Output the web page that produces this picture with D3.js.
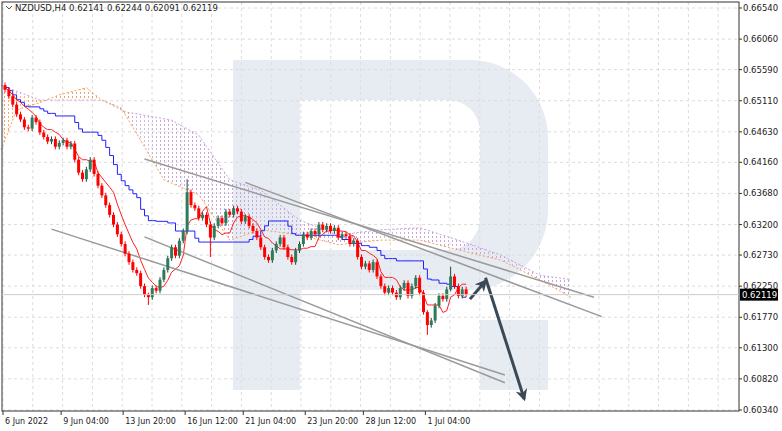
<!DOCTYPE html>
<html><head><meta charset="utf-8">
<script src="https://cdn.jsdelivr.net/npm/d3@7"></script>
<style>body{margin:0;background:#fff}text{font-family:"DejaVu Sans",sans-serif}</style>
</head><body><svg id="c" width="782" height="431"></svg>
<script>
// closes per H4 bar, opens are previous close
var closes = [0.6528,0.6518,0.6505,0.6490,0.6482,0.6470,0.6468,0.6485,0.6478,0.6462,
  0.6455,0.6448,0.6452,0.6440,0.6446,0.6450,0.6440,0.6445,0.6420,0.6400,
  0.6390,0.6405,0.6420,0.6398,0.6380,0.6365,0.6350,0.6335,0.6320,0.6305,
  0.6290,0.6275,0.6262,0.6250,0.6245,0.6225,0.6212,0.6208,0.6222,0.6218,
  0.6235,0.6250,0.6268,0.6285,0.6272,0.6295,0.6310,0.6370,0.6350,0.6345,
  0.6330,0.6335,0.6320,0.6300,0.6318,0.6330,0.6322,0.6340,0.6335,0.6345,
  0.6340,0.6325,0.6332,0.6318,0.6310,0.6300,0.6285,0.6270,0.6265,0.6280,
  0.6290,0.6300,0.6285,0.6270,0.6262,0.6280,0.6290,0.6305,0.6300,0.6310,
  0.6305,0.6320,0.6312,0.6318,0.6310,0.6315,0.6300,0.6305,0.6302,0.6290,
  0.6295,0.6270,0.6255,0.6260,0.6250,0.6262,0.6240,0.6225,0.6215,0.6222,
  0.6215,0.6208,0.6222,0.6230,0.6210,0.6225,0.6238,0.6215,0.6185,0.6165,
  0.6172,0.6195,0.6210,0.6205,0.6220,0.6240,0.6225,0.6210,0.6220,0.6212];
var firstOpen = 0.6535;
// extra wicks beyond body (price), default for the rest
var bigWicks = {47:[0.0020,0.0005],53:[0.0005,0.0030],109:[0.0003,0.0015],115:[0.0015,0.0003],37:[0.0003,0.0012]};
var spanA = [[-1,0.6435],[3,0.6497],[9,0.6508],[14,0.6520],[21,0.6531],[25,0.6512],[30,0.6500],[35,0.6450],[41,0.6389],[50,0.6366],[58,0.6296],[66,0.6312],[76,0.6304],[86,0.6289],[97,0.6296],[107,0.6296],[117,0.6281],[128,0.6265],[138,0.6235],[146,0.6208]];
var spanB = [[-1,0.6535],[9,0.6512],[25,0.6512],[31,0.6494],[43,0.6481],[50,0.6458],[58,0.6389],[66,0.6373],[76,0.6327],[86,0.6304],[97,0.6312],[107,0.6315],[117,0.6296],[128,0.6273],[138,0.6242],[146,0.6235]];
var orangeUntil = 32;
var trendLines = [[[36,0.6421],[152,0.6208]],[[62,0.6385],[154,0.6178]],[[12,0.6313],[129,0.6088]],[[36,0.6301],[129,0.6076]]];
var arrows = [[[120,0.6205],[124,0.6233]],[[124,0.6238],[134,0.6051]]];
var priceTicks = ["0.66540","0.66060","0.65590","0.65110","0.64630","0.64160","0.63680","0.63200","0.62730","0.62250","0.61770","0.61300","0.60820","0.60340"];
var dateLabels = [[0,"6 Jun 2022"],[15,"9 Jun 04:00"],[31,"13 Jun 20:00"],[47,"16 Jun 12:00"],[62,"21 Jun 04:00"],[78,"23 Jun 20:00"],[93,"28 Jun 12:00"],[109,"1 Jul 04:00"]];
var lastPrice = "0.62119";

var svg = d3.select("#c");
var x = d3.scaleLinear().domain([0, 1]).range([5, 8.875]);
var y = d3.scaleLinear().domain([0.6034, 0.6654]).range([410, 8]);
var L = 2, R = 739, T = 2, B = 411;

var bars = closes.map(function(c, i) {
  var o = i ? closes[i-1] : firstOpen;
  var w = bigWicks[i] || [0.0004, 0.0004];
  return {i: i, o: o, c: c, h: Math.max(o, c) + w[0], l: Math.min(o, c) - w[1]};
});

// watermark logo
svg.append("path").attr("fill", "#e7ecf3")
  .attr("d", "M233,60 H470 A78,78 0 0 1 548,138 V210 A80,80 0 0 1 468,290 H300 V390 H233 Z M300,100 V250 H448 A32,32 0 0 0 480,218 V132 A32,32 0 0 0 448,100 Z M480,320 H548 V390 H480 Z")
  .attr("fill-rule", "evenodd");

// grid
var g = svg.append("g");
priceTicks.forEach(function(t) {
  g.append("line").attr("x1", L).attr("x2", R).attr("y1", y(+t)).attr("y2", y(+t))
    .attr("stroke", "#dcdcdc").attr("stroke-dasharray", "3,3");
});
for (var gx = 3; gx < R; gx += 29.8) {
  g.append("line").attr("x1", gx).attr("x2", gx).attr("y1", T).attr("y2", B)
    .attr("stroke", "#dcdcdc").attr("stroke-dasharray", "3,3");
}

// ichimoku cloud (dotted hatch)
var defs = svg.append("defs");
[["po", "#f3a15c"], ["pp", "#c9a3dc"]].forEach(function(p) {
  var pat = defs.append("pattern").attr("id", p[0]).attr("width", 4).attr("height", 4).attr("patternUnits", "userSpaceOnUse");
  pat.append("rect").attr("width", 1).attr("height", 2).attr("fill", p[1]);
});
function at(span, k) {
  for (var j = 0; j < span.length - 1; j++) {
    if (k >= span[j][0] && k <= span[j+1][0]) {
      var t = (k - span[j][0]) / (span[j+1][0] - span[j][0]);
      return span[j][1] + t * (span[j+1][1] - span[j][1]);
    }
  }
  return span[span.length-1][1];
}
for (var k = -1; k < 146; k++) {
  var a0 = at(spanA, k), a1 = at(spanA, k+1), b0 = at(spanB, k), b1 = at(spanB, k+1);
  svg.append("path").attr("fill", k < orangeUntil ? "url(#po)" : "url(#pp)")
    .attr("d", "M" + x(k) + "," + y(a0) + "L" + x(k+1) + "," + y(a1) + "L" + x(k+1) + "," + y(b1) + "L" + x(k) + "," + y(b0) + "Z");
}
var ln = d3.line().x(function(d) { return x(d[0]); }).y(function(d) { return y(d[1]); });
svg.append("path").attr("d", ln(spanA)).attr("fill", "none").attr("stroke", "#f3a15c").attr("stroke-dasharray", "2,2");
svg.append("path").attr("d", ln(spanB)).attr("fill", "none").attr("stroke", "#c9a3dc").attr("stroke-dasharray", "2,2");

// tenkan / kijun from the bars
function mid(n) {
  return bars.map(function(b, i) {
    var s = bars.slice(Math.max(0, i - n + 1), i + 1);
    return [i, (d3.max(s, function(d) { return d.h; }) + d3.min(s, function(d) { return d.l; })) / 2];
  });
}
svg.append("path").attr("d", d3.line().curve(d3.curveStepAfter).x(function(d) { return x(d[0]); }).y(function(d) { return y(d[1]); })(mid(26)))
  .attr("fill", "none").attr("stroke", "#2020ff").attr("stroke-width", 1);
svg.append("path").attr("d", ln(mid(6))).attr("fill", "none").attr("stroke", "#ff2020").attr("stroke-width", 1);

// trend lines
trendLines.forEach(function(t) {
  svg.append("line").attr("x1", x(t[0][0])).attr("y1", y(t[0][1])).attr("x2", x(t[1][0])).attr("y2", y(t[1][1]))
    .attr("stroke", "#9a9a9a").attr("stroke-width", 1.5);
});

// candles
var cg = svg.append("g");
bars.forEach(function(b) {
  var up = b.c >= b.o, col = up ? "#2f7a5a" : "#ff0000";
  cg.append("line").attr("x1", x(b.i)).attr("x2", x(b.i)).attr("y1", y(b.h)).attr("y2", y(b.l))
    .attr("stroke", up ? "#204a3a" : "#ff0000");
  cg.append("rect").attr("x", x(b.i) - 1.5).attr("width", 3)
    .attr("y", y(Math.max(b.o, b.c))).attr("height", Math.max(1, y(Math.min(b.o, b.c)) - y(Math.max(b.o, b.c))))
    .attr("fill", col);
});

// arrows
defs.append("marker").attr("id", "ah").attr("viewBox", "0 0 10 10").attr("refX", 8).attr("refY", 5)
  .attr("markerWidth", 4).attr("markerHeight", 4).attr("orient", "auto")
  .append("path").attr("d", "M0,0 L10,5 L0,10 L3,5 Z").attr("fill", "#3b4856");
arrows.forEach(function(a) {
  svg.append("line").attr("x1", x(a[0][0])).attr("y1", y(a[0][1])).attr("x2", x(a[1][0])).attr("y2", y(a[1][1]))
    .attr("stroke", "#3b4856").attr("stroke-width", 3).attr("marker-end", "url(#ah)");
});

// frame and axes
svg.append("rect").attr("x", L).attr("y", T).attr("width", R - L).attr("height", B - T)
  .attr("fill", "none").attr("stroke", "#333");
svg.append("line").attr("x1", L).attr("x2", R).attr("y1", y(+lastPrice)).attr("y2", y(+lastPrice)).attr("stroke", "#ccc");
priceTicks.forEach(function(t) {
  svg.append("line").attr("x1", R).attr("x2", R + 3).attr("y1", y(+t)).attr("y2", y(+t)).attr("stroke", "#333");
  svg.append("text").attr("x", R + 4).attr("y", y(+t) + 3).attr("font-size", 8.5).attr("fill", "#222").text(t);
});
svg.append("rect").attr("x", R + 1).attr("y", y(+lastPrice) - 6).attr("width", 38).attr("height", 12).attr("fill", "#000");
svg.append("text").attr("x", R + 3).attr("y", y(+lastPrice) + 3.5).attr("font-size", 8.5).attr("fill", "#fff").text(lastPrice);
dateLabels.forEach(function(d) {
  var px = x(d[0]) - 2;
  svg.append("line").attr("x1", px).attr("x2", px).attr("y1", B).attr("y2", B + 4).attr("stroke", "#333");
  svg.append("text").attr("x", px + 2).attr("y", B + 13).attr("font-size", 8).attr("fill", "#222").text(d[1]);
});
svg.append("path").attr("d", "M6,6 l3,3 l3,-3").attr("fill", "none").attr("stroke", "#555");
svg.append("text").attr("x", 15).attr("y", 11).attr("font-size", 8.5).attr("fill", "#222")
  .text("NZDUSD,H4  0.62141 0.62244 0.62091 0.62119");
</script></body></html>
